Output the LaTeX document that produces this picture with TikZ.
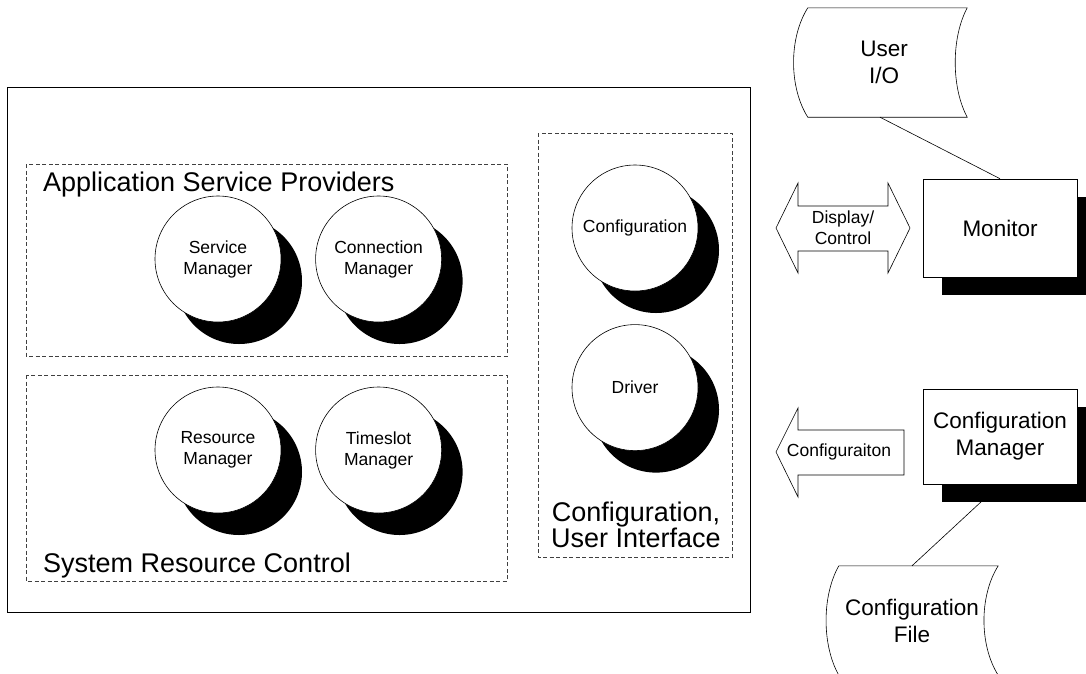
\documentclass[tikz,border=0pt]{standalone}
\usepackage{fontspec}
\setmainfont{Liberation Sans}
\usetikzlibrary{positioning,shadows,backgrounds}
\newcommand{\grpfont}{\fontsize{27}{25}\selectfont}
\newcommand{\procfont}{\fontsize{17.5}{21}\selectfont}
\newcommand{\extfont}{\fontsize{22.5}{27}\selectfont}
\tikzset{
  outerbox/.style = {draw, line width=0.7pt},
  grp/.style      = {draw=black!75, line width=0.6pt, dash pattern=on 4pt off 2.5pt},
  grplabel/.style = {font=\grpfont, inner sep=0pt},
  proc/.style     = {circle, draw, fill=white, line width=0.6pt, minimum size=126pt,
                     inner sep=0pt, align=center, font=\procfont,
                     drop shadow={shadow xshift=21pt, shadow yshift=-22pt, fill=black, opacity=1}},
  ext/.style      = {rectangle, draw, fill=white, line width=0.6pt, minimum width=154pt,
                     align=center, font=\extfont,
                     drop shadow={shadow xshift=19pt, shadow yshift=-18pt, fill=black, opacity=1}},
  store/.style    = {minimum width=159pt, minimum height=109pt, inner sep=0pt,
                     align=center, font=\extfont},
  bigarrow/.style = {draw, line width=0.6pt},
  fatlabel/.style = {font=\procfont, align=center, inner sep=0pt},
  link/.style     = {draw, line width=0.6pt},
}

\begin{document}
\begin{tikzpicture}[x=1pt, y=-1pt]
  \useasboundingbox (0,0) rectangle (1086,673);

  % system and its groups
  \draw[outerbox] (7,87) rectangle (750,612);
  \draw[grp] (26,164) rectangle (507,356);
  \draw[grp] (26,375) rectangle (507,581);
  \draw[grp] (538,133) rectangle (732,557);

  \node[grplabel, anchor=base west] (asplabel) at (43,191) {Application Service Providers};
  \node[grplabel, anchor=base west] (srclabel) at (43,572) {System Resource Control};
  \node[grplabel, align=center] (cuilabel) at (636,525) {Configuration,\\User Interface};

  % processes
  \node[proc] (svcmgr) at (218,259) {Service\\Manager};
  \node[proc, right=34pt of svcmgr] (connmgr) {Connection\\Manager};
  \node[proc] (resmgr) at (218,450) {Resource\\Manager};
  \node[proc, right=34pt of resmgr] (tsmgr) {Timeslot\\Manager};
  \node[proc] (cfg) at (635,228) {Configuration};
  \node[proc, below=33pt of cfg] (drv) {Driver};

  % outside the system
  \node[store] (userio) at (884,62.5) {User\\I/O};
  \draw[link] ([xshift=3.5pt]userio.north west) .. controls +(-19,30) and +(-19,-30) .. ([xshift=3.5pt]userio.south west)
    -- ([xshift=3.5pt]userio.south east) .. controls +(-16,-30) and +(-16,30) .. ([xshift=3.5pt]userio.north east) -- cycle;

  \node[ext, minimum height=98pt] (monitor) at (1000,228) {Monitor};
  \node[ext, minimum height=95pt] (cfgmgr) at (1000,436.5) {Configuration\\Manager};

  \node[store] (cfgfile) at (912,620.5) {Configuration\\File};
  \draw[link] ([xshift=6.5pt]cfgfile.north west) .. controls +(-17,30) and +(-17,-30) .. ([xshift=6.5pt]cfgfile.south west)
    -- ([xshift=6.5pt]cfgfile.south east) .. controls +(-19,-30) and +(-19,30) .. ([xshift=6.5pt]cfgfile.north east) -- cycle;

  % flows
  \node[fatlabel] (dispctl) at (843,228) {Display/\\Control};
  \draw[bigarrow] (776,228) -- (798,183) -- (798,206) -- (888,206) -- (888,183) -- (910,228)
    -- (888,273) -- (888,251) -- (798,251) -- (798,273) -- cycle;

  \node[fatlabel] (cfgflow) at (839,452) {Configuraiton};
  \draw[bigarrow] (776,452) -- (798,408) -- (798,430) -- (904,430) -- (904,475)
    -- (798,475) -- (798,497) -- cycle;

  \begin{scope}[on background layer]
    \draw[link] ([xshift=-4pt]userio.south) -- (monitor.north);
    \draw[link] (cfgmgr.south) -- (cfgfile.north);
  \end{scope}

\end{tikzpicture}
\end{document}
